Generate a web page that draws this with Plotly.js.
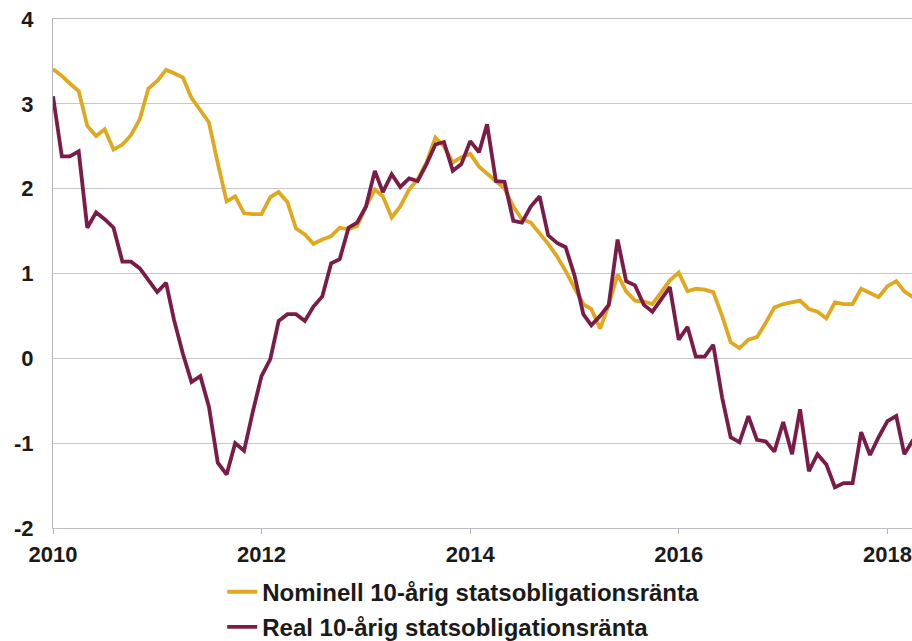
<!DOCTYPE html>
<html>
<head>
<meta charset="utf-8">
<script src="https://cdn.plot.ly/plotly-3.0.1.min.js"></script>
<style>
html,body{margin:0;padding:0;background:#fff;}
#chart{width:912px;height:641px;}
</style>
</head>
<body>
<div id="chart"></div>
<script>
// Monthly observations, January 2010 onwards
const startYear = 2010;
const nominal = [
  3.41, 3.33, 3.24, 3.15, 2.74, 2.62, 2.70, 2.46, 2.52, 2.63,
  2.82, 3.18, 3.27, 3.40, 3.36, 3.31, 3.07, 2.92, 2.78, 2.30,
  1.85, 1.91, 1.71, 1.70, 1.70, 1.90, 1.96, 1.84, 1.53, 1.46,
  1.35, 1.40, 1.44, 1.54, 1.52, 1.56, 1.79, 1.99, 1.91, 1.66,
  1.79, 1.99, 2.11, 2.31, 2.60, 2.50, 2.31, 2.37, 2.41, 2.26,
  2.18, 2.08, 2.00, 1.79, 1.64, 1.60, 1.48, 1.35, 1.20, 1.03,
  0.83, 0.64, 0.58, 0.35, 0.63, 0.99, 0.79, 0.68, 0.67, 0.64,
  0.78, 0.92, 1.01, 0.79, 0.82, 0.81, 0.78, 0.50, 0.19, 0.12,
  0.22, 0.25, 0.42, 0.60, 0.64, 0.66, 0.68, 0.58, 0.55, 0.47,
  0.66, 0.64, 0.64, 0.82, 0.77, 0.72, 0.85, 0.91, 0.79, 0.72
];
const real = [
  3.09, 2.38, 2.38, 2.44, 1.54, 1.72, 1.64, 1.54, 1.14, 1.14,
  1.06, 0.92, 0.78, 0.89, 0.45, 0.05, -0.28, -0.21, -0.57, -1.23,
  -1.37, -1.00, -1.09, -0.64, -0.21, -0.01, 0.44, 0.52, 0.52, 0.44,
  0.61, 0.73, 1.12, 1.17, 1.54, 1.60, 1.79, 2.21, 1.96, 2.17,
  2.02, 2.12, 2.09, 2.29, 2.52, 2.55, 2.21, 2.29, 2.56, 2.43,
  2.76, 2.09, 2.08, 1.62, 1.60, 1.79, 1.91, 1.45, 1.36, 1.31,
  0.98, 0.52, 0.39, 0.50, 0.63, 1.40, 0.91, 0.86, 0.63, 0.55,
  0.70, 0.84, 0.22, 0.37, 0.02, 0.02, 0.16, -0.46, -0.93, -0.99,
  -0.68, -0.96, -0.98, -1.10, -0.75, -1.13, -0.60, -1.33, -1.13, -1.25,
  -1.52, -1.47, -1.47, -0.87, -1.14, -0.93, -0.74, -0.68, -1.13, -0.96
];
const seriesNames = ["Nominell 10-årig statsobligationsränta", "Real 10-årig statsobligationsränta"];
const xTickVals = ["2010-01-01", "2012-01-01", "2014-01-01", "2016-01-01", "2018-01-01"];
const xTickText = ["2010", "2012", "2014", "2016", "2018"];
const yTickVals = [-2, -1, 0, 1, 2, 3, 4];
const yTickText = ["-2", "-1", "0", "1", "2", "3", "4"];

function monthDates(n) {
  const out = [];
  for (let i = 0; i < n; i++) {
    const y = startYear + Math.floor(i / 12);
    const m = (i % 12) + 1;
    out.push(y + "-" + String(m).padStart(2, "0") + "-01");
  }
  return out;
}
const dates = monthDates(nominal.length);

const FONT = "Liberation Sans, Arial, sans-serif";
const traces = [
  {x: dates, y: nominal, type: "scatter", mode: "lines", name: seriesNames[0],
   line: {color: "#E0A81E", width: 3.8}, legend: "legend"},
  {x: dates, y: real, type: "scatter", mode: "lines", name: seriesNames[1],
   line: {color: "#7A1C47", width: 3.8}, legend: "legend2"}
];

const legendCommon = {
  font: {family: FONT, size: 24, color: "#1a1a1a", weight: "bold"},
  bgcolor: "rgba(0,0,0,0)", xanchor: "left", yanchor: "middle",
  itemwidth: 30, tracegroupgap: 0
};

const layout = {
  width: 912, height: 641,
  margin: {l: 53, r: 0, t: 19, b: 113, autoexpand: false},
  paper_bgcolor: "#fff", plot_bgcolor: "#fff",
  showlegend: true,
  legend: Object.assign({x: 0.197, y: -0.126}, legendCommon),
  legend2: Object.assign({x: 0.197, y: -0.195}, legendCommon),
  xaxis: {
    type: "date",
    range: ["2010-01-01", "2018-03-28"],
    tickvals: xTickVals, ticktext: xTickText,
    showgrid: false, zeroline: false,
    showline: true, mirror: true, linecolor: "#c2bcc6", linewidth: 1,
    ticks: "outside", ticklen: 5, tickcolor: "#b9b3bd",
    tickfont: {family: FONT, size: 22, color: "#1a1a1a", weight: "bold"},
    ticklabelstandoff: 2
  },
  yaxis: {
    range: [-2, 4],
    tickvals: yTickVals, ticktext: yTickText,
    showgrid: true, gridcolor: "#cbc4cf", gridwidth: 1,
    zeroline: false,
    showline: true, linecolor: "#b9b3bd", linewidth: 1,
    ticks: "",
    tickfont: {family: FONT, size: 22, color: "#1a1a1a", weight: "bold"},
    ticklabelstandoff: 14
  }
};

Plotly.newPlot("chart", traces, layout, {displayModeBar: false, staticPlot: true});
</script>
</body>
</html>
